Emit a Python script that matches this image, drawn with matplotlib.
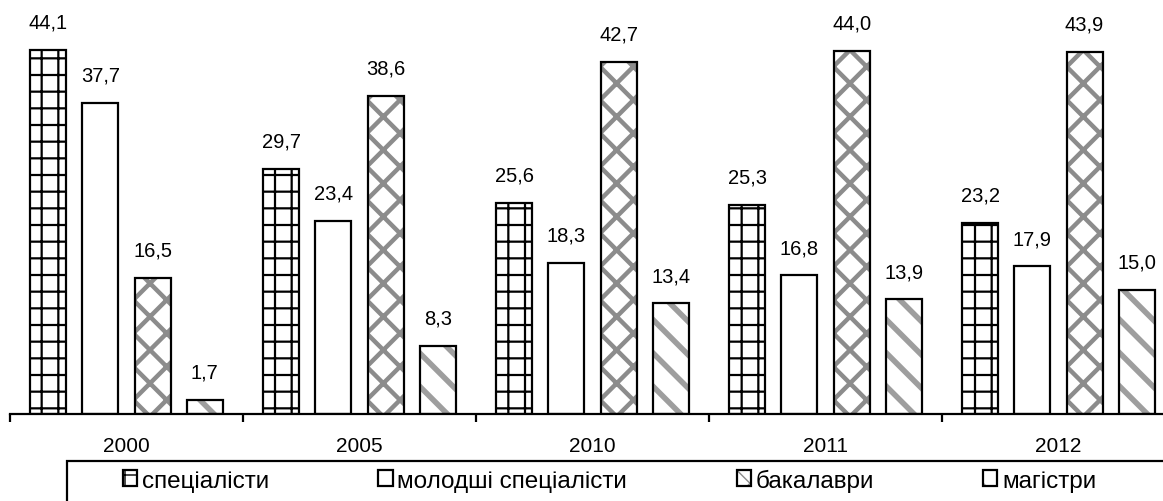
import matplotlib.pyplot as plt
from matplotlib.patches import Patch, Rectangle
import numpy as np

plt.rcParams['font.family'] = ['Liberation Sans', 'DejaVu Sans']

# дані з діаграми
roky = ['2000', '2005', '2010', '2011', '2012']
nazvy = ['спеціалісти', 'молодші спеціалісти', 'бакалаври', 'магістри']
specialisty = [44.1, 29.7, 25.6, 25.3, 23.2]
molodshi = [37.7, 23.4, 18.3, 16.8, 17.9]
bakalavry = [16.5, 38.6, 42.7, 44.0, 43.9]
mahistry = [1.7, 8.3, 13.4, 13.9, 15.0]

ryady = [specialisty, molodshi, bakalavry, mahistry]
# штрихування: (hatch, колір штриха, товщина штриха)
styli = [('+', 'black', 1.6), ('', 'black', 1.0),
         ('x', '#8c8c8c', 3.2), ('\\', '#9e9e9e', 4.0)]

W, H = 1163, 502
fig = plt.figure(figsize=(W / 100, H / 100), dpi=100)
ax = fig.add_axes([10 / W, 87 / H, 1165 / W, 405 / H])

x = np.arange(len(roky))
zsuvy = [-0.336, -0.112, 0.112, 0.336]
shyryna = 0.155

handles = []
for dani, zsuv, (h, kolir, lw) in zip(ryady, zsuvy, styli):
    with plt.rc_context({'hatch.linewidth': lw}):
        fon = ax.bar(x + zsuv, dani, shyryna, color='white', edgecolor=kolir,
                     linewidth=0, hatch=h, zorder=2)
        for p in fon:
            if hasattr(p, 'set_hatch_linewidth'):
                p.set_hatch_linewidth(lw)
        ax.bar(x + zsuv, dani, shyryna, fill=False, edgecolor='black',
               linewidth=1.6, zorder=3)
        p1 = Patch(facecolor='white', edgecolor=kolir, linewidth=0, hatch=h)
        if hasattr(p1, 'set_hatch_linewidth'):
            p1.set_hatch_linewidth(lw)
    p2 = Patch(fill=False, edgecolor='black', linewidth=1.6)
    handles.append((p1, p2))
    for xi, v in zip(x + zsuv, dani):
        ax.annotate(f'{v:.1f}'.replace('.', ','), (xi, v), xytext=(0, 20),
                    textcoords='offset points', ha='center', va='center',
                    fontsize=14.5)

ax.set_xlim(-0.5, 4.5)
ax.set_ylim(0, 405 / 8.25)
for s in ['top', 'left', 'right']:
    ax.spines[s].set_visible(False)
ax.spines['bottom'].set_linewidth(1.6)
ax.set_yticks([])
ax.set_xticks(x)
ax.set_xticklabels(roky, fontsize=15)
ax.tick_params(axis='x', which='major', length=0, pad=16)
ax.set_xticks(np.arange(-0.5, 5.0, 1.0), minor=True)
ax.tick_params(axis='x', which='minor', length=6, width=1.6, direction='out')

# рамка легенди (виходить за край малюнка, як в оригіналі)
fig.patches.append(Rectangle((67 / W, -0.1), 1.0, 0.1 + 40 / H, transform=fig.transFigure,
                             fill=False, edgecolor='black', linewidth=1.6))

fig.legend(handles, nazvy, loc='center left', bbox_to_anchor=(123 / W, (H - 481) / H),
           ncol=4, fontsize=17.5, frameon=False, borderpad=0, borderaxespad=0,
           handlelength=0.58, handleheight=0.58, handletextpad=0.2,
           columnspacing=4.5)

fig.savefig('out.png', dpi=100)
